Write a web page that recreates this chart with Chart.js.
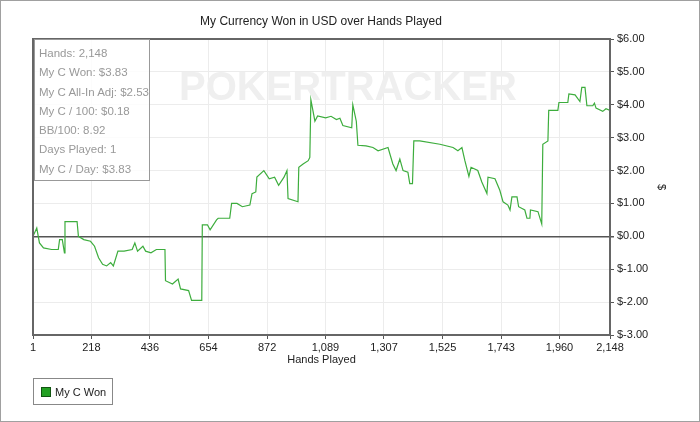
<!DOCTYPE html>
<html>
<head>
<meta charset="utf-8">
<script src="https://cdn.jsdelivr.net/npm/chart.js@4"></script>
<style>
  body { margin: 0; background: #fff; font-family: "Liberation Sans", Arial, sans-serif; }
  #wrap { position: relative; width: 698px; height: 420px; border: 1px solid #a0a0a0; overflow: hidden; }
  canvas { position: absolute; left: -1px; top: -1px; }
  .title { position: absolute; top: 13px; left: 0; width: 640px; text-align: center; font-size: 12px; color: #222; }
  .mark { position: absolute; left: 178px; top: 63px; font-size: 40px; font-weight: bold; color: #efefef; letter-spacing: 0px; }
  .stats { position: absolute; left: 33px; top: 38px; width: 116px; height: 142px; border: 1px solid #999; background: rgba(255,255,255,0.85);
           font-size: 11.5px; color: #999; padding: 4px 0 0 4px; box-sizing: border-box; line-height: 19.3px; }
  .legend { position: absolute; left: 32px; top: 377px; width: 80px; height: 27px; border: 1px solid #888; font-size: 11px; color: #222;
            line-height: 27px; box-sizing: border-box; padding-left: 7px; }
  .legend span { display: inline-block; width: 8px; height: 8px; background: #22a022; border: 1px solid #115511; margin-right: 4px; vertical-align: -1px; }
</style>
</head>
<body>
<div id="wrap">
  <canvas id="c" width="700" height="422"></canvas>
  <div class="mark">POKERTRACKER</div>
  <div class="title">My Currency Won in USD over Hands Played</div>
  <div class="stats" id="stats"></div>
  <div class="legend"><span></span>My C Won</div>
</div>
<script>
const hands = [1, 15, 25, 40, 70, 95, 100, 110, 118, 120, 165, 170, 190, 215, 230, 245, 260, 275, 290, 300, 317,
  340, 370, 380, 390, 410, 420, 440, 460, 492, 494, 520, 541, 550, 580, 591, 629, 631, 650, 660, 684, 690, 733, 740,
  760, 780, 808, 816, 830, 834, 860, 880, 900, 915, 935, 946, 950, 987, 990, 1006, 1025, 1031, 1035, 1050, 1060,
  1090, 1110, 1130, 1143, 1154, 1187, 1191, 1204, 1210, 1240, 1266, 1285, 1322, 1340, 1352, 1366, 1378, 1396, 1403,
  1413, 1418, 1440, 1515, 1564, 1582, 1597, 1608, 1623, 1631, 1656, 1671, 1690, 1694, 1720, 1738, 1750, 1768, 1776,
  1783, 1802, 1808, 1831, 1839, 1850, 1852, 1880, 1894, 1898, 1917, 1920, 1954, 1958, 1991, 1995, 2018, 2036, 2043,
  2055, 2062, 2084, 2090, 2096, 2121, 2133, 2148];
const won = [0.0, 0.25, -0.2, -0.35, -0.4, -0.4, -0.1, -0.1, -0.5, 0.45, 0.45, 0.0, -0.1, -0.15, -0.3, -0.65, -0.85, -0.9, -0.8, -0.9, -0.45,
  -0.45, -0.4, -0.2, -0.45, -0.3, -0.45, -0.5, -0.4, -0.4, -1.35, -1.45, -1.3, -1.6, -1.65, -1.95, -1.95, 0.35, 0.35, 0.2, 0.5, 0.55, 0.55, 1.0,
  1.0, 0.9, 0.95, 1.3, 1.35, 1.8, 2.0, 1.75, 1.8, 1.55, 1.8, 2.0, 1.15, 1.05, 2.1, 2.2, 2.3, 2.4, 4.15, 3.5, 3.66,
  3.6, 3.65, 3.55, 3.59, 3.37, 3.3, 4.0, 3.5, 2.77, 2.75, 2.7, 2.6, 2.7, 2.2, 2.0, 2.35, 2.0, 1.95, 1.6,
  1.6, 2.9, 2.9, 2.8, 2.7, 2.6, 2.7, 2.3, 1.82, 2.1, 2.0, 1.65, 1.3, 1.8, 1.75, 1.4, 1.05, 0.95, 0.8,
  1.2, 1.2, 0.9, 0.8, 0.55, 0.55, 0.8, 0.75, 0.38, 2.8, 2.9, 3.83, 3.83, 4.07, 4.07, 4.33, 4.3, 4.1, 4.53,
  4.53, 3.97, 3.97, 4.05, 3.9, 3.8, 3.88, 3.83];
const xTicks = [1, 218, 436, 654, 872, 1089, 1307, 1525, 1743, 1960, 2148];
const stats = ["Hands: 2,148", "My C Won: $3.83", "My C All-In Adj: $2.53", "My C / 100: $0.18", "BB/100: 8.92", "Days Played: 1", "My C / Day: $3.83"];

document.getElementById("stats").innerHTML = stats.map(s => "<div>" + s + "</div>").join("");

const font = { family: "Liberation Sans, Arial, sans-serif", size: 11 };
new Chart(document.getElementById("c"), {
  type: "line",
  data: {
    datasets: [{
      label: "My C Won",
      data: hands.map((h, i) => ({ x: h, y: won[i] })),
      borderColor: "#3dad3d",
      borderWidth: 1.2,
      pointRadius: 0,
      tension: 0,
      fill: false
    }]
  },
  options: {
    responsive: false,
    animation: false,
    layout: { padding: { left: 33, top: 39, right: 32, bottom: 55 } },
    plugins: { legend: { display: false }, title: { display: false }, tooltip: { enabled: false } },
    scales: {
      x: {
        type: "linear", min: 1, max: 2148,
        afterBuildTicks: ax => { ax.ticks = xTicks.map(v => ({ value: v })); },
        afterFit: ax => { ax.height = 32; },
        ticks: { color: "#222", font, maxRotation: 0, autoSkip: false, padding: 2,
                 callback: v => v.toLocaleString("en-US") },
        grid: { color: "#ececec", tickColor: "#555", tickLength: 4 },
        border: { color: "#666", width: 2 },
        title: { display: true, text: "Hands Played", color: "#222", font, padding: { top: 0, bottom: 0 } }
      },
      y: {
        position: "right", min: -3, max: 6,
        afterFit: ax => { ax.width = 58; },
        ticks: { stepSize: 1, color: "#222", font, padding: 3,
                 callback: v => "$" + v.toFixed(2) },
        grid: { color: c => c.tick && c.tick.value === 0 ? "#555" : "#ececec",
                lineWidth: c => c.tick && c.tick.value === 0 ? 1.5 : 1, tickColor: "#555", tickLength: 4 },
        border: { color: "#666", width: 2 },
        title: { display: true, text: "$", color: "#222", font, padding: 0 }
      }
    }
  },
  plugins: [{
    id: "frame",
    afterDraw(chart) {
      const { ctx, chartArea: a } = chart;
      ctx.save();
      ctx.strokeStyle = "#666";
      ctx.lineWidth = 2;
      ctx.strokeRect(a.left, a.top, a.right - a.left, a.bottom - a.top);
      ctx.restore();
    }
  }]
});
</script>
</body>
</html>
